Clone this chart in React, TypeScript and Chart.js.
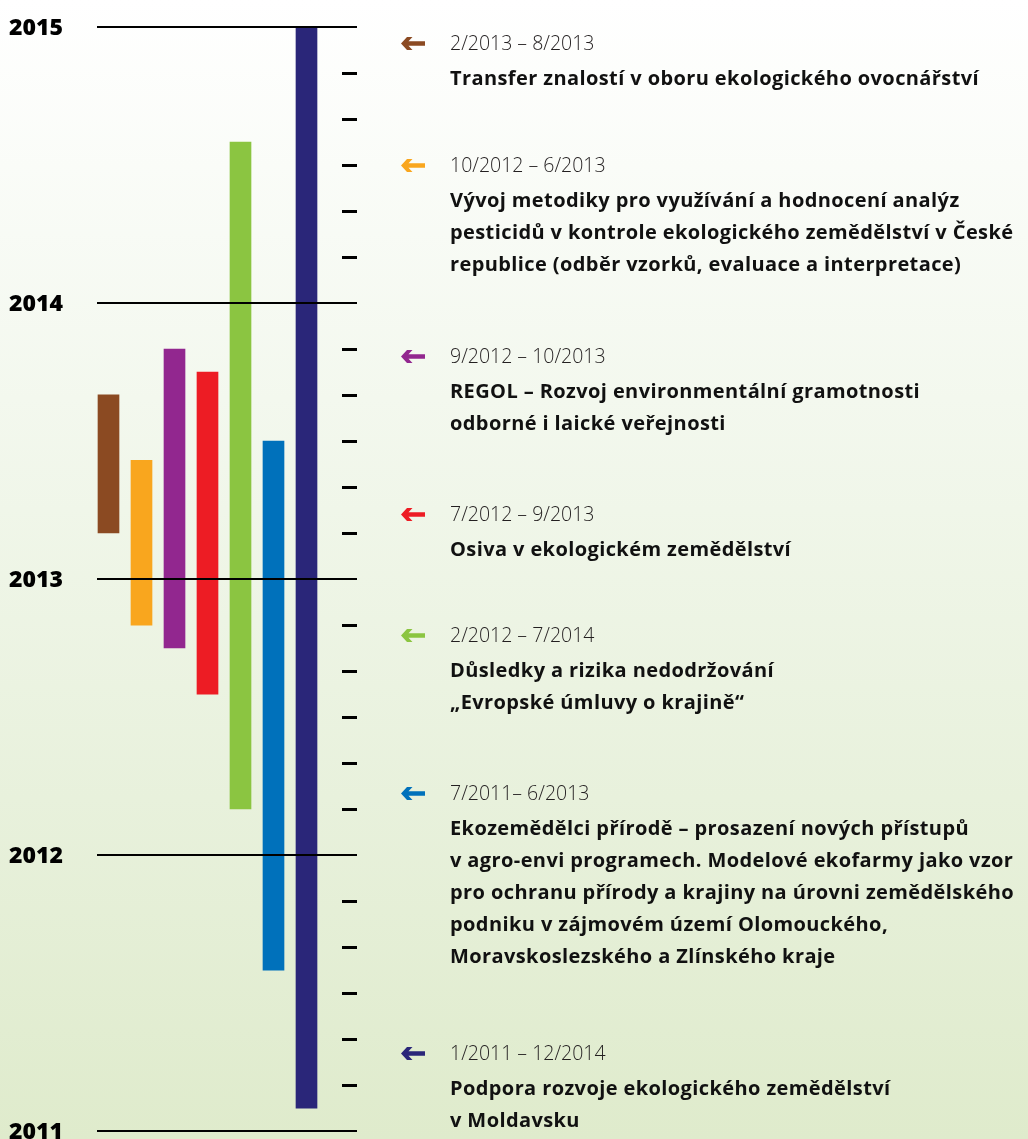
import React, { useEffect, useRef } from "react";
import { Chart, registerables } from "chart.js";

Chart.register(...registerables);

const projectIds = ["transfer", "pesticidy", "regol", "osiva", "krajina", "ekofarmy", "moldavsko"];
const startValues = [2013.167, 2012.833, 2012.75, 2012.583, 2012.167, 2011.583, 2011.083];
const endValues = [2013.667, 2013.43, 2013.833, 2013.75, 2014.583, 2013.5, 2015.0];
const barColors = ["#8B4A22", "#F9A61E", "#92278F", "#ED1C24", "#8BC541", "#0071BB", "#2A2679"];
const yearTicks = [2011, 2012, 2013, 2014, 2015];
const dateLabels = [
  "2/2013 – 8/2013",
  "10/2012 – 6/2013",
  "9/2012 – 10/2013",
  "7/2012 – 9/2013",
  "2/2012 – 7/2014",
  "7/2011– 6/2013",
  "1/2011 – 12/2014",
];
const titleLines: string[][] = [
  ["Transfer znalostí v oboru ekologického ovocnářství"],
  [
    "Vývoj metodiky pro využívání a hodnocení analýz",
    "pesticidů v kontrole ekologického zemědělství v České",
    "republice (odběr vzorků, evaluace a interpretace)",
  ],
  ["REGOL – Rozvoj environmentální gramotnosti", "odborné i laické veřejnosti"],
  ["Osiva v ekologickém zemědělství"],
  ["Důsledky a rizika nedodržování", "„Evropské úmluvy o krajině“"],
  [
    "Ekozemědělci přírodě – prosazení nových přístupů",
    "v agro-envi programech. Modelové ekofarmy jako vzor",
    "pro ochranu přírody a krajiny na úrovni zemědělského",
    "podniku v zájmovém území Olomouckého,",
    "Moravskoslezského a Zlínského kraje",
  ],
  ["Podpora rozvoje ekologického zemědělství", "v Moldavsku"],
];
const entryTops = [27, 149, 340, 498, 619, 777, 1037];

const FONT = "'Open Sans', 'Noto Sans', sans-serif";

const Arrow = ({ color }: { color: string }) => (
  <svg width="24" height="13" viewBox="0 0 24 13" style={{ display: "block" }}>
    <polygon points="0,6.5 6,0 11.5,0 7.5,4.2 24,4.2 24,8.8 7.5,8.8 11.5,13 6,13" fill={color} />
  </svg>
);

export default function App() {
  const ref = useRef<HTMLCanvasElement>(null);

  useEffect(() => {
    if (!ref.current) return;
    const overlay = {
      id: "timelineOverlay",
      afterDatasetsDraw(chart: any) {
        const ctx = chart.ctx;
        const y = chart.scales.y;
        ctx.save();
        ctx.strokeStyle = "#000";
        ctx.lineWidth = 2;
        yearTicks.forEach((yr) => {
          const py = Math.round(y.getPixelForValue(yr));
          ctx.beginPath();
          ctx.moveTo(97, py);
          ctx.lineTo(357, py);
          ctx.stroke();
        });
        ctx.lineWidth = 3;
        for (let i = 0; i < yearTicks.length - 1; i++) {
          for (let m = 2; m < 12; m += 2) {
            const py = Math.round(y.getPixelForValue(yearTicks[i] + m / 12)) + 0.5;
            ctx.beginPath();
            ctx.moveTo(342, py);
            ctx.lineTo(357, py);
            ctx.stroke();
          }
        }
        ctx.fillStyle = "#000";
        ctx.font = `800 23px ${FONT}`;
        ctx.textAlign = "left";
        ctx.textBaseline = "middle";
        yearTicks.forEach((yr) => {
          const py = y.getPixelForValue(yr);
          ctx.fillText(String(yr), 9, py + 1);
        });
        ctx.restore();
      },
    };

    const chart = new Chart(ref.current, {
      type: "bar",
      data: {
        labels: projectIds,
        datasets: [
          {
            data: startValues.map((s, i) => [s, endValues[i]]) as any,
            backgroundColor: barColors,
            borderWidth: 0,
            barThickness: 21,
          },
        ],
      },
      options: {
        animation: false,
        responsive: false,
        maintainAspectRatio: false,
        layout: { padding: { left: 92, right: 1028 - 323, top: 27, bottom: 8 } },
        plugins: { legend: { display: false }, tooltip: { enabled: false } },
        scales: {
          x: { display: false, offset: true },
          y: { display: false, min: 2011, max: 2015 },
        },
      },
      plugins: [overlay],
    });
    return () => chart.destroy();
  }, []);

  return (
    <div
      style={{
        position: "absolute",
        left: 0,
        top: 0,
        width: 1028,
        height: 1139,
        overflow: "hidden",
        background: "linear-gradient(to bottom, #ffffff 0%, #f3f8ee 35%, #e8f1dc 70%, #dfebcc 100%)",
        fontFamily: FONT,
      }}
    >
      <canvas ref={ref} width={1028} height={1139} style={{ position: "absolute", left: 0, top: 0 }} />
      {dateLabels.map((d, i) => (
        <div key={i} style={{ position: "absolute", left: 400, top: entryTops[i], width: 628 }}>
          <div style={{ position: "absolute", left: 1, top: 10 }}>
            <Arrow color={barColors[i]} />
          </div>
          <div
            style={{
              position: "absolute",
              left: 50,
              top: 0,
              fontSize: 19.5,
              fontWeight: 300,
              color: "#231f20",
              lineHeight: "32px",
              whiteSpace: "nowrap",
            }}
          >
            {d}
          </div>
          <div
            style={{
              position: "absolute",
              left: 50,
              top: 35,
              fontSize: 20,
              fontWeight: 700,
              letterSpacing: "0.4px",
              color: "#111",
              lineHeight: "32px",
              whiteSpace: "nowrap",
            }}
          >
            {titleLines[i].map((t, j) => (
              <div key={j}>{t}</div>
            ))}
          </div>
        </div>
      ))}
    </div>
  );
}
